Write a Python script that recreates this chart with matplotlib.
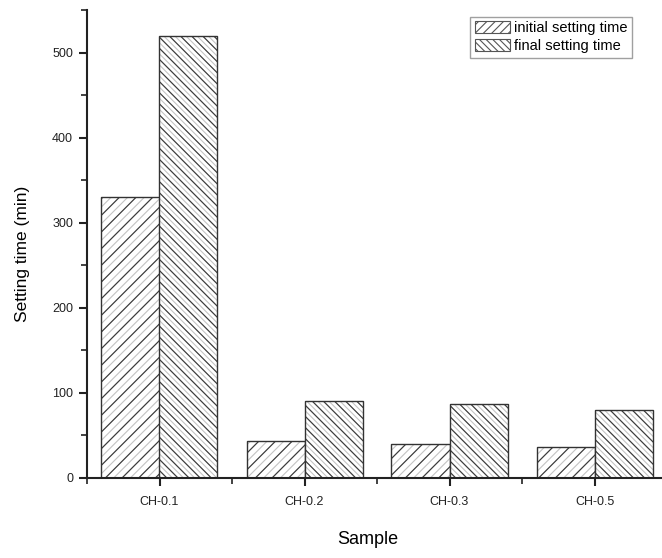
import numpy as np
import matplotlib
matplotlib.use('Agg')
import matplotlib.pyplot as plt
from matplotlib.patches import Patch

plt.rcParams['font.family'] = ['Liberation Sans', 'DejaVu Sans']
plt.rcParams['hatch.linewidth'] = 0.8

samples = ['CH-0.1', 'CH-0.2', 'CH-0.3', 'CH-0.5']
initial_time = [330, 43, 40, 36]
final_time = [519, 90, 87, 80]

x = np.arange(1, len(samples) + 1)
w = 0.4

fig = plt.figure(figsize=(6.62, 5.58), dpi=100)
ax = fig.add_axes([87 / 662, 80 / 558, 575 / 662, 468 / 558])

# light under-hatch, darker main hatch on top, outline last
ax.bar(x - w / 2, initial_time, w, color='white', edgecolor='#c4c4c4', hatch='////', linewidth=0.5)
ax.bar(x - w / 2, initial_time, w, color='none', edgecolor='#3a3a3a', hatch='//', linewidth=0.5)
ax.bar(x - w / 2, initial_time, w, color='none', edgecolor='#333333', linewidth=1.0)

ax.bar(x + w / 2, final_time, w, color='white', edgecolor='#c4c4c4', hatch='\\' * 6, linewidth=0.5)
ax.bar(x + w / 2, final_time, w, color='none', edgecolor='#3a3a3a', hatch='\\' * 3, linewidth=0.5)
ax.bar(x + w / 2, final_time, w, color='none', edgecolor='#333333', linewidth=1.0)

ax.set_xlim(0.5, 0.5 + 575 / 145)
ax.set_ylim(0, 550)
ax.set_xticks(x)
ax.set_xticklabels(samples)
ax.set_xticks(x - 0.5, minor=True)
ax.set_yticks(range(0, 501, 100))
ax.set_yticks(range(50, 551, 100), minor=True)

for side in ['top', 'right']:
    ax.spines[side].set_visible(False)
for side in ['left', 'bottom']:
    ax.spines[side].set_linewidth(1.5)
    ax.spines[side].set_color('#222222')

ax.tick_params(which='major', direction='out', length=6, width=1.5, labelsize=9, colors='#222222', pad=4)
ax.tick_params(which='minor', direction='out', length=4, width=1.2, colors='#222222')
ax.tick_params(axis='x', which='major', pad=7)

ax.set_ylabel('Setting time (min)', fontsize=12.5)
ax.yaxis.set_label_coords(-(87 - 30) / 575, (478 - 254) / 468)
ax.set_xlabel('Sample', fontsize=13)
ax.xaxis.set_label_coords((368 - 87) / 575, -(531 - 478) / 468)

handles = [
    Patch(facecolor='white', edgecolor='#555555', hatch='////', linewidth=0.8),
    Patch(facecolor='white', edgecolor='#555555', hatch='\\' * 5, linewidth=0.8),
]
ax.legend(handles, ['initial setting time', 'final setting time'],
          loc='upper right', bbox_to_anchor=((632 - 87) / 575, (478 - 17) / 468),
          fontsize=10.5, frameon=True, fancybox=False, edgecolor='#888888',
          borderpad=0.3, handlelength=2.4, handleheight=0.9, handletextpad=0.3,
          labelspacing=0.25, borderaxespad=0)

fig.savefig('out.png', dpi=100)
